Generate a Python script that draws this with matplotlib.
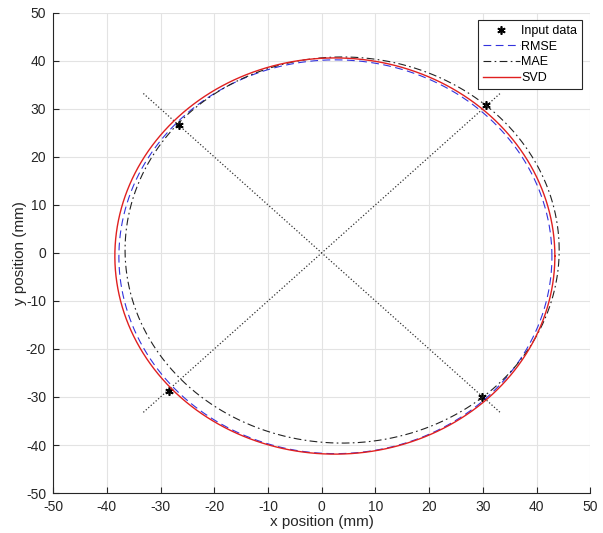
import numpy as np
import matplotlib.pyplot as plt

plt.rcParams['font.family'] = ['Liberation Sans', 'DejaVu Sans']
plt.rcParams['axes.unicode_minus'] = False

# measured input points (mm)
x_in = [-26.6, 30.6, -28.5, 29.9]
y_in = [26.6, 30.9, -28.7, -30.1]

# fitted curves: centre x, centre y, half-width, half-height (mm)
fits = ['RMSE', 'MAE', 'SVD']
cx = [2.55, 3.8, 2.45]
cy = [-0.8, 0.6, -0.65]
rx = [40.3, 40.4, 40.95]
ry = [41.0, 40.2, 41.25]

# dotted guide lines through the origin
guide_x = [-33.2, 33.2]
guide_y = [33.2, -33.2]

fig = plt.figure(figsize=(6.03, 5.33), dpi=100)
ax = fig.add_axes([0.088, 0.075, 0.891, 0.901])

ax.plot(guide_x, guide_x, ':', color='#333333', lw=0.9)
ax.plot(guide_x, guide_y, ':', color='#333333', lw=0.9)

ax.plot(x_in, y_in, marker=(6, 2, 0), color='black', mec='black', ms=6,
        mew=1.2, ls='none', label='Input data')

t = np.linspace(0, 2 * np.pi, 400)
styles = {'RMSE': dict(color='#3333dd', ls=(0, (7, 4)), lw=0.8),
          'MAE': dict(color='#222222', ls=(0, (7, 3, 1.5, 3)), lw=0.8),
          'SVD': dict(color='#e02020', ls='-', lw=1.0)}
for name, x0, y0, a, b in zip(fits, cx, cy, rx, ry):
    ax.plot(x0 + a * np.cos(t), y0 + b * np.sin(t), label=name, **styles[name])

ax.set_xlim(-50, 50)
ax.set_ylim(-50, 50)
ax.set_xticks(np.arange(-50, 51, 10))
ax.set_yticks(np.arange(-50, 51, 10))
ax.grid(True, color='#e3e3e3', lw=0.8)
ax.set_axisbelow(True)
for s in ['top', 'right']:
    ax.spines[s].set_visible(False)
for s in ['left', 'bottom']:
    ax.spines[s].set_color('#262626')
ax.tick_params(direction='in', length=4, labelsize=10, colors='#262626', pad=5)
ax.set_xlabel('x position (mm)', fontsize=11, color='#262626', labelpad=1)
ax.set_ylabel('y position (mm)', fontsize=11, color='#262626', labelpad=-1)

leg = ax.legend(loc='upper right', bbox_to_anchor=(0.985, 0.985), fontsize=9,
                fancybox=False, edgecolor='#262626', framealpha=1,
                handlelength=3.0, handletextpad=0.1, borderpad=0.4,
                labelspacing=0.3, borderaxespad=0)
leg.get_frame().set_linewidth(0.8)

fig.savefig('out.png', dpi=100)
